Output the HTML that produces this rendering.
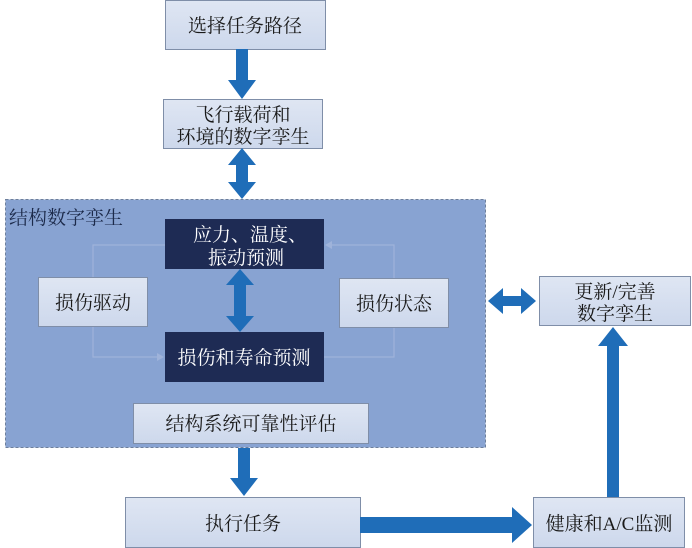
<!DOCTYPE html>
<html><head><meta charset="utf-8"><style>
html,body{margin:0;padding:0;background:#fff;}
svg{display:block;}
text{font-family:"Liberation Serif","Noto Serif CJK SC",serif;}
</style></head><body>
<svg width="692" height="548" viewBox="0 0 692 548" xmlns="http://www.w3.org/2000/svg">
<defs>
<linearGradient id="lb" x1="0" y1="0" x2="0" y2="1"><stop offset="0" stop-color="#dfe6f3"/><stop offset="1" stop-color="#cdd8ec"/></linearGradient>
</defs>
<rect x="5.5" y="199.5" width="480" height="248" fill="#88a3d2" stroke="#6d7f9c" stroke-width="1" stroke-dasharray="3,2"/>
<text x="9" y="224" font-size="19" fill="#1c2a4a">结构数字孪生</text>
<g fill="none" stroke="#9fb3da" stroke-width="1.2">
<polyline points="93,277 93,245 165,245"/>
<polyline points="93,326 93,357 160,357"/>
<polyline points="324,357 394,357 394,245 330,245"/>
</g>
<polygon points="164,357 157,353 157,361" fill="#9fb3da"/>
<polygon points="325,245 332,241 332,249" fill="#9fb3da"/>
<g stroke="#7f8ea8" stroke-width="1">
<rect x="165.5" y="0.5" width="160" height="49" fill="url(#lb)"/>
<rect x="163.5" y="99.5" width="159" height="49" fill="url(#lb)"/>
<rect x="38.5" y="277.5" width="109" height="49" fill="url(#lb)"/>
<rect x="339.5" y="278.5" width="109" height="49" fill="url(#lb)"/>
<rect x="133.5" y="403.5" width="235" height="40" fill="url(#lb)"/>
<rect x="539.5" y="276.5" width="151" height="49" fill="url(#lb)"/>
<rect x="125.5" y="497.5" width="235" height="50" fill="url(#lb)"/>
<rect x="533.5" y="497.5" width="151" height="50" fill="url(#lb)"/>
</g>
<rect x="165" y="219" width="159" height="50" fill="#1e2b54"/>
<rect x="165" y="332" width="159" height="50" fill="#1e2b54"/>
<g fill="#1f6db8">
<polygon points="236,49 248,49 248,80 256,80 242,99 228,80 236,80"/>
<polygon points="242,148 256,165 248,165 248,182 256,182 242,199 228,182 236,182 236,165 228,165"/>
<polygon points="240,269 254,285 246,285 246,316 254,316 240,332 226,316 234,316 234,285 226,285"/>
<polygon points="238,448 250,448 250,478 258,478 244,496 230,478 238,478"/>
<polygon points="360,517 512,517 512,507 532,525 512,543 512,533 360,533"/>
<polygon points="607,497 619,497 619,346 628,346 613,327 598,346 607,346"/>
<polygon points="488,301 503,288 503,296 521,296 521,288 536,301 521,314 521,306 503,306 503,314"/>
</g>
<g font-size="19" fill="#1a1a1a" text-anchor="middle">
<text x="245" y="32">选择任务路径</text>
<text x="243" y="121">飞行载荷和</text>
<text x="243" y="143">环境的数字孪生</text>
<text x="93" y="309">损伤驱动</text>
<text x="394" y="310">损伤状态</text>
<text x="251" y="430">结构系统可靠性评估</text>
<text x="615" y="298">更新/完善</text>
<text x="615" y="320">数字孪生</text>
<text x="243" y="530">执行任务</text>
<text x="609" y="530">健康和A/C监测</text>
</g>
<g font-size="19" fill="#ffffff" text-anchor="middle">
<text x="250" y="241">应力、温度、</text>
<text x="246" y="264">振动预测</text>
<text x="244" y="364">损伤和寿命预测</text>
</g>
</svg>
</body></html>
